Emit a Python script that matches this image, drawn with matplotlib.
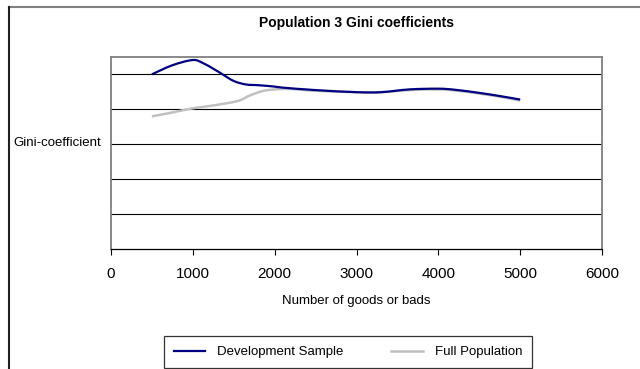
import matplotlib
matplotlib.use("Agg")
import matplotlib.pyplot as plt
from matplotlib.lines import Line2D
from matplotlib.path import Path
from matplotlib.patches import PathPatch

plt.rcParams["font.family"] = ["Liberation Sans", "DejaVu Sans"]

# Development sample (blue) and full population (grey) Gini readings
dev_x = [500, 750, 1000, 1125, 1250, 1350, 1500, 1650, 1800, 2000, 2100, 2500, 3000, 3300, 3650, 4000, 4200, 4500, 4750, 5000]
dev_gini = [0.500, 0.526, 0.541, 0.532, 0.516, 0.502, 0.481, 0.471, 0.469, 0.465, 0.462, 0.455, 0.449, 0.449, 0.457, 0.459, 0.456, 0.447, 0.438, 0.428]
full_x = [500, 750, 1000, 1250, 1550, 1700, 1850, 2000, 2200, 2500, 3000, 3300, 3650, 4000, 4200, 4500, 4750, 5000]
full_gini = [0.380, 0.391, 0.403, 0.411, 0.424, 0.440, 0.452, 0.457, 0.458, 0.453, 0.449, 0.449, 0.455, 0.457, 0.454, 0.445, 0.436, 0.425]

x_ticks = [0, 1000, 2000, 3000, 4000, 5000, 6000]
y_grid = [0.1, 0.2, 0.3, 0.4, 0.5]


def smooth_path(xs, ys):
    # Excel-style smoothed line: Catmull-Rom segments as cubic beziers
    pts = list(zip(xs, ys))
    verts = [pts[0]]
    codes = [Path.MOVETO]
    for i in range(len(pts) - 1):
        p0 = pts[i - 1] if i > 0 else pts[i]
        p1, p2 = pts[i], pts[i + 1]
        p3 = pts[i + 2] if i + 2 < len(pts) else p2
        c1 = (p1[0] + (p2[0] - p0[0]) / 6, p1[1] + (p2[1] - p0[1]) / 6)
        c2 = (p2[0] - (p3[0] - p1[0]) / 6, p2[1] - (p3[1] - p1[1]) / 6)
        verts += [c1, c2, p2]
        codes += [Path.CURVE4] * 3
    return Path(verts, codes)


W, H = 640, 369
fig = plt.figure(figsize=(6.4, 3.69), dpi=100)

# outer chart frame (right/bottom edges cut off in the source)
fig.add_artist(Line2D([9 / W, 1.0], [1 - 6.7 / H, 1 - 6.7 / H], color="#808080", lw=1.5, transform=fig.transFigure))
fig.add_artist(Line2D([9 / W, 9 / W], [0.0, 1 - 6.7 / H], color="#202020", lw=1.5, transform=fig.transFigure))

ax = fig.add_axes([111 / W, 1 - 249.3 / H, 491 / W, (249.3 - 56.5) / H])
ax.set_xlim(0, 6000)
ax.set_ylim(0, 0.551)

for g in y_grid:
    ax.axhline(g, color="#000000", lw=0.8, zorder=1)

ax.add_patch(PathPatch(smooth_path(full_x, full_gini), facecolor="none", edgecolor="#C0C0C0",
                       lw=1.8, zorder=3, capstyle="butt"))
ax.add_patch(PathPatch(smooth_path(dev_x, dev_gini), facecolor="none", edgecolor="#000080",
                       lw=1.6, zorder=4, capstyle="butt"))

for side in ["top", "right", "left"]:
    ax.spines[side].set_color("#808080")
    ax.spines[side].set_linewidth(1.3)
ax.spines["bottom"].set_color("#000000")
ax.spines["bottom"].set_linewidth(0.9)

ax.set_xticks(x_ticks)
ax.set_xticklabels([str(t) for t in x_ticks], fontsize=11)
ax.tick_params(axis="x", direction="out", length=4, width=0.8, pad=9)
ax.set_yticks([])
ax.set_xlabel("Number of goods or bads", fontsize=9.5, labelpad=10)

fig.text(356.5 / W, 1 - 23 / H, "Population 3 Gini coefficients", ha="center", va="center",
         fontsize=10, fontweight="bold")
fig.text(13 / W, 1 - 143 / H, "Gini-coefficient", ha="left", va="center", fontsize=9.5)

handles = [Line2D([], [], color="#000080", lw=1.6), Line2D([], [], color="#C0C0C0", lw=1.8)]
leg = fig.legend(handles, ["Development Sample", "Full Population"], loc="center",
                 bbox_to_anchor=(348 / W, 1 - 352 / H), ncol=2, fontsize=9.5,
                 frameon=True, fancybox=False, edgecolor="#000000", handlelength=2.4,
                 columnspacing=3.6, borderpad=0.75, handletextpad=0.9, borderaxespad=0)
leg.get_frame().set_linewidth(0.9)

fig.savefig("out.png", dpi=100)
